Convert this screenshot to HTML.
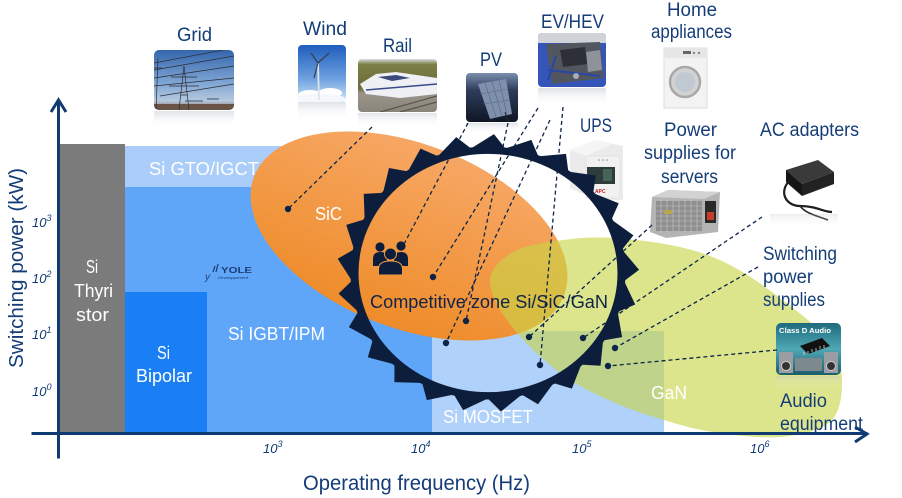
<!DOCTYPE html>
<html><head><meta charset="utf-8"><style>
html,body{margin:0;padding:0;background:#fff;}
svg{display:block;}
</style></head><body>
<svg width="902" height="498" viewBox="0 0 902 498" xmlns="http://www.w3.org/2000/svg" xmlns:xlink="http://www.w3.org/1999/xlink" font-family="'Liberation Sans', sans-serif">
<defs>
  <linearGradient id="og" x1="0" y1="140" x2="0" y2="340" gradientUnits="userSpaceOnUse">
    <stop offset="0" stop-color="#f7a866"/><stop offset="1" stop-color="#ee8a26"/>
  </linearGradient>
  <linearGradient id="gGrid" x1="0" y1="0" x2="0" y2="1">
    <stop offset="0" stop-color="#3466ad"/><stop offset="0.55" stop-color="#80a6d4"/><stop offset="0.85" stop-color="#b6c9de"/><stop offset="1" stop-color="#7a6050"/>
  </linearGradient>
  <linearGradient id="gWind" x1="0" y1="0" x2="0" y2="1">
    <stop offset="0" stop-color="#1f5cbc"/><stop offset="0.6" stop-color="#6fa2e0"/><stop offset="1" stop-color="#d6e6f6"/>
  </linearGradient>
  <linearGradient id="gRail" x1="0" y1="0" x2="0" y2="1">
    <stop offset="0" stop-color="#d8dde2"/><stop offset="0.1" stop-color="#7d8046"/><stop offset="0.55" stop-color="#6b6a3c"/><stop offset="0.65" stop-color="#9a948a"/><stop offset="1" stop-color="#8a857c"/>
  </linearGradient>
  <linearGradient id="gPV" x1="0" y1="0" x2="0" y2="1">
    <stop offset="0" stop-color="#7a8fb0"/><stop offset="0.35" stop-color="#2e3c5a"/><stop offset="1" stop-color="#0f1626"/>
  </linearGradient>
  <linearGradient id="gAud" x1="0" y1="0" x2="0" y2="1">
    <stop offset="0" stop-color="#1d6a7c"/><stop offset="0.5" stop-color="#4fa8b4"/><stop offset="1" stop-color="#1b5c6a"/>
  </linearGradient>
  <linearGradient id="refl" x1="0" y1="0" x2="0" y2="1">
    <stop offset="0" stop-color="#b8c0c8" stop-opacity="0.45"/><stop offset="1" stop-color="#ffffff" stop-opacity="0"/>
  </linearGradient>
  <clipPath id="cGrid"><rect x="154" y="50" width="80" height="60" rx="5"/></clipPath>
  <clipPath id="cWind"><rect x="298" y="45" width="48" height="57" rx="4"/></clipPath>
  <clipPath id="cRail"><rect x="358" y="59" width="79" height="53" rx="4"/></clipPath>
  <clipPath id="cPV"><rect x="466" y="73" width="52" height="49" rx="4"/></clipPath>
  <clipPath id="cEV"><rect x="538" y="33" width="68" height="54" rx="4"/></clipPath>
  <clipPath id="cAud"><rect x="776" y="323" width="65" height="52" rx="5"/></clipPath>
  <polygon id="tt" points="-17.5,-135 17.5,-135 6,-151"/>
</defs>

<rect width="902" height="498" fill="#fff"/>

<!-- ===== Photos ===== -->
<!-- Grid -->
<g clip-path="url(#cGrid)">
  <rect x="154" y="50" width="80" height="60" fill="url(#gGrid)"/>
  <rect x="154" y="104" width="80" height="6" fill="#6a5448"/>
  <g stroke="#2c2c34" stroke-width="0.7" fill="none">
    <path d="M154,63 L234,48 M154,70 L234,56 M154,78 L234,66 M154,86 L234,78 M160,96 L234,84"/>
    <path d="M179,110 L184,66 L189,110 M171,77 L197,77 M169,86 L199,86 M181,95 L187,95"/>
    <path d="M156,110 L158,58 M154,68 L162,68"/>
  </g>
  <path d="M185,101 l18,0 M207,99 l12,0" stroke="#3a4c70" stroke-width="1"/>
</g>
<rect x="154" y="111" width="80" height="16" fill="url(#refl)"/>
<!-- Wind -->
<g clip-path="url(#cWind)">
  <rect x="298" y="45" width="48" height="57" fill="url(#gWind)"/>
  <ellipse cx="310" cy="95" rx="12" ry="5" fill="#fff"/>
  <ellipse cx="330" cy="93" rx="12" ry="5" fill="#fff"/>
  <ellipse cx="320" cy="99" rx="26" ry="5" fill="#f4f8fc"/>
  <line x1="318" y1="63" x2="319" y2="100" stroke="#e0e4ea" stroke-width="1.8"/>
  <path d="M318,63 L329,53 M318,63 L314,78 M318,63 L311,53" stroke="#3a3e48" stroke-width="1.2"/>
</g>
<rect x="298" y="102" width="48" height="18" fill="url(#refl)"/>
<!-- Rail -->
<g clip-path="url(#cRail)">
  <rect x="358" y="59" width="79" height="53" fill="url(#gRail)"/>
  <polygon points="360,84 376,74 396,72 437,78 437,94 400,98 366,94" fill="#eef0f4"/>
  <path d="M378,77 L396,75 L410,78 L392,81 Z" fill="#3a4a7a"/>
  <path d="M366,90 L437,84" stroke="#3a4a8a" stroke-width="1.5"/>
  <path d="M380,112 L437,96 M400,112 L437,102" stroke="#5a544c" stroke-width="1.2"/>
</g>
<rect x="358" y="113" width="79" height="14" fill="url(#refl)"/>
<!-- PV -->
<g clip-path="url(#cPV)">
  <rect x="466" y="73" width="52" height="49" fill="url(#gPV)"/>
  <polygon points="478,84 506,79 512,114 490,119" fill="#7e90ab"/>
  <path d="M485,83 L496,117 M492,82 L502,116 M499,80 L507,115 M480,94 L508,89 M483,104 L510,100" stroke="#5a6a84" stroke-width="0.6"/>
  <path d="M490,119 L492,122 M505,112 L508,122" stroke="#222" stroke-width="1"/>
</g>
<rect x="466" y="123" width="52" height="10" fill="url(#refl)"/>
<!-- EV/HEV -->
<g clip-path="url(#cEV)">
  <rect x="538" y="33" width="68" height="54" fill="#3556b8"/>
  <rect x="538" y="33" width="68" height="10" fill="#cfd2d8"/>
  <polygon points="546,44 600,42 604,78 552,84" fill="#52565f"/>
  <polygon points="560,50 585,47 588,64 563,67" fill="#2e3038"/>
  <polygon points="586,52 600,50 602,70 588,72" fill="#8e929a"/>
  <path d="M548,70 L600,76 M556,56 L548,80" stroke="#2846a8" stroke-width="2"/>
  <circle cx="576" cy="76" r="3" fill="#a8acb4"/>
</g>
<rect x="538" y="88" width="68" height="18" fill="url(#refl)"/>
<!-- Home appliance -->
<rect x="664" y="48" width="43" height="60" fill="#f3f3f3" stroke="#dedede"/>
<rect x="665" y="49" width="41" height="9" fill="#e6e6e6"/>
<circle cx="694" cy="53" r="1.2" fill="#888"/><circle cx="699" cy="53" r="1.2" fill="#888"/><rect x="683" y="51" width="8" height="3" fill="#666"/>
<circle cx="685" cy="82" r="15" fill="#d2d2d2" stroke="#a8a8a8" stroke-width="2.5"/>
<circle cx="685" cy="82" r="10" fill="#c0c8d2"/>
<!-- UPS -->
<polygon points="570,150 596,140 623,146 623,200 596,200 570,188" fill="#ebebeb"/>
<polygon points="570,150 596,140 612,144 586,156" fill="#f5f5f5"/>
<rect x="586" y="156" width="34" height="42" fill="#f1f1f1" stroke="#dcdcdc" stroke-width="0.6"/>
<rect x="587" y="167" width="28" height="17" fill="#2e3c3c"/>
<rect x="603" y="169" width="9" height="12" fill="#47645a"/>
<text x="595" y="193" font-size="5" font-weight="bold" fill="#d02020">APC</text>
<circle cx="599" cy="160" r="0.8" fill="#888"/><circle cx="603" cy="160" r="0.8" fill="#888"/><circle cx="607" cy="160" r="0.8" fill="#888"/>
<!-- Power supply -->
<polygon points="652,197 668,190 720,192 718,232 666,238 650,232" fill="#b4b4b4"/>
<polygon points="652,197 668,190 720,192 704,199" fill="#d2d2d2"/>
<rect x="656" y="201" width="46" height="30" fill="#8f8f8f"/>
<g stroke="#c6c6c6" stroke-width="0.6"><path d="M656,206 h46 M656,211 h46 M656,216 h46 M656,221 h46 M656,226 h46 M661,201 v30 M667,201 v30 M673,201 v30 M679,201 v30 M685,201 v30 M691,201 v30 M697,201 v30"/></g>
<rect x="664" y="210" width="8" height="4" fill="#b8a64a"/>
<rect x="705" y="201" width="11" height="22" fill="#2a2a2a"/>
<rect x="707" y="212" width="7" height="8" fill="#c83a2a"/>
<!-- AC adapter -->
<polygon points="786,170 818,160 834,172 802,184" fill="#3a3a3a"/>
<polygon points="786,170 802,184 802,196 786,182" fill="#151515"/>
<polygon points="802,184 834,172 834,184 802,196" fill="#222"/>
<path d="M790,180 C778,192 786,206 800,206 C816,206 824,212 832,212" fill="none" stroke="#1e1e1e" stroke-width="2.2"/>
<path d="M800,206 C806,214 818,216 828,220" fill="none" stroke="#2a2a2a" stroke-width="1.6"/>
<rect x="770" y="214" width="68" height="14" fill="url(#refl)" opacity="0.6"/>

<!-- ===== Chart regions ===== -->
<rect x="59" y="144" width="66" height="290" fill="#7b7b7b"/>
<rect x="125" y="146" width="165" height="41" fill="#abcdf9"/>
<rect x="125" y="187" width="307" height="247" fill="#5fa5f8"/>
<rect x="125" y="292" width="82" height="142" fill="#1a7ff4"/>
<rect x="432" y="331" width="232" height="103" fill="#b0d1f9"/>

<!-- SiC ellipse -->
<ellipse cx="409" cy="236" rx="166" ry="92" transform="rotate(21 409 236)" fill="url(#og)"/>

<!-- GaN shape -->
<path fill="rgb(200,213,70)" fill-opacity="0.62" d="M490,282 C490,269.3 500.8,259 513,252 C525.2,245 546.3,242.3 563,240 C579.7,237.7 593.5,236.8 613,238 C632.5,239.2 660.5,242.5 680,247 C699.5,251.5 713.3,256.5 730,265 C746.7,273.5 763.3,285.2 780,298 C796.7,310.8 819.7,328 830,342 C840.3,356 842,368.7 842,382 C842,395.3 840.3,412.8 830,422 C819.7,431.2 799.5,435.3 780,437 C760.5,438.7 732.3,434.8 713,432 C693.7,429.2 680.7,425 664,420 C647.3,415 629.8,409.5 613,402 C596.2,394.5 579.7,387.3 563,375 C546.3,362.7 525.2,343.5 513,328 C500.8,312.5 490,294.7 490,282 Z"/>

<!-- Gear -->
<g transform="translate(488,273) scale(1,0.92)" fill="#0c1e3c">
  <circle r="133.5" fill="none" stroke="#0c1e3c" stroke-width="8"/>
  <use xlink:href="#tt" href="#tt" transform="rotate(0)"/>
  <use xlink:href="#tt" href="#tt" transform="rotate(14.4)"/>
  <use xlink:href="#tt" href="#tt" transform="rotate(28.8)"/>
  <use xlink:href="#tt" href="#tt" transform="rotate(43.2)"/>
  <use xlink:href="#tt" href="#tt" transform="rotate(57.6)"/>
  <use xlink:href="#tt" href="#tt" transform="rotate(72)"/>
  <use xlink:href="#tt" href="#tt" transform="rotate(86.4)"/>
  <use xlink:href="#tt" href="#tt" transform="rotate(100.8)"/>
  <use xlink:href="#tt" href="#tt" transform="rotate(115.2)"/>
  <use xlink:href="#tt" href="#tt" transform="rotate(129.6)"/>
  <use xlink:href="#tt" href="#tt" transform="rotate(144)"/>
  <use xlink:href="#tt" href="#tt" transform="rotate(158.4)"/>
  <use xlink:href="#tt" href="#tt" transform="rotate(172.8)"/>
  <use xlink:href="#tt" href="#tt" transform="rotate(187.2)"/>
  <use xlink:href="#tt" href="#tt" transform="rotate(201.6)"/>
  <use xlink:href="#tt" href="#tt" transform="rotate(216)"/>
  <use xlink:href="#tt" href="#tt" transform="rotate(230.4)"/>
  <use xlink:href="#tt" href="#tt" transform="rotate(244.8)"/>
  <use xlink:href="#tt" href="#tt" transform="rotate(259.2)"/>
  <use xlink:href="#tt" href="#tt" transform="rotate(273.6)"/>
  <use xlink:href="#tt" href="#tt" transform="rotate(288)"/>
  <use xlink:href="#tt" href="#tt" transform="rotate(302.4)"/>
  <use xlink:href="#tt" href="#tt" transform="rotate(316.8)"/>
  <use xlink:href="#tt" href="#tt" transform="rotate(331.2)"/>
  <use xlink:href="#tt" href="#tt" transform="rotate(345.6)"/>
</g>

<!-- Audio photo (over green) -->
<g clip-path="url(#cAud)">
  <rect x="776" y="323" width="65" height="52" fill="url(#gAud)"/>
  <polygon points="800,346 822,338 830,346 808,354" fill="#111"/>
  <path d="M804,352 l0,3 M808,351 l0,3 M812,349 l0,3 M816,348 l0,3 M820,346 l0,3 M824,345 l0,3" stroke="#ddd" stroke-width="0.8"/>
  <rect x="779" y="352" width="14" height="21" fill="#9a9ea4"/>
  <circle cx="786" cy="366" r="4.5" fill="#333" stroke="#ccc" stroke-width="1"/>
  <rect x="824" y="352" width="14" height="21" fill="#9a9ea4"/>
  <circle cx="831" cy="366" r="4.5" fill="#333" stroke="#ccc" stroke-width="1"/>
  <rect x="795" y="358" width="27" height="13" fill="#7c8a90"/>
</g>
<text x="779" y="333" font-size="7.5" font-weight="bold" fill="#ffffff" textLength="52" lengthAdjust="spacingAndGlyphs">Class D Audio</text>
<rect x="776" y="376" width="65" height="14" fill="url(#refl)" opacity="0.7"/>

<!-- ===== Axes ===== -->
<g stroke="#0f3a72" stroke-width="3" fill="none" stroke-linecap="square">
  <line x1="58.5" y1="101" x2="58.5" y2="457"/>
  <line x1="33" y1="433.5" x2="866" y2="433.5"/>
  <polyline points="51,112 58.5,100 66,112" stroke-linejoin="miter" stroke-linecap="butt"/>
  <polyline points="855,427 867,434 855,442" stroke-linejoin="miter" stroke-linecap="butt"/>
</g>

<!-- ===== Labels ===== -->
<g fill="#143d78" font-size="19">
  <text x="177" y="41" textLength="35" lengthAdjust="spacingAndGlyphs">Grid</text>
  <text x="303" y="35" textLength="44" lengthAdjust="spacingAndGlyphs">Wind</text>
  <text x="383" y="52" textLength="29" lengthAdjust="spacingAndGlyphs">Rail</text>
  <text x="480" y="66" textLength="22" lengthAdjust="spacingAndGlyphs">PV</text>
  <text x="541" y="28" textLength="63" lengthAdjust="spacingAndGlyphs">EV/HEV</text>
  <text x="667" y="16" textLength="50" lengthAdjust="spacingAndGlyphs">Home</text>
  <text x="651" y="38" textLength="81" lengthAdjust="spacingAndGlyphs">appliances</text>
  <text x="580" y="132" textLength="32" lengthAdjust="spacingAndGlyphs">UPS</text>
  <text x="664" y="136" textLength="53" lengthAdjust="spacingAndGlyphs">Power</text>
  <text x="644" y="159" textLength="92" lengthAdjust="spacingAndGlyphs">supplies for</text>
  <text x="661" y="183" textLength="57" lengthAdjust="spacingAndGlyphs">servers</text>
  <text x="760" y="136" textLength="99" lengthAdjust="spacingAndGlyphs">AC adapters</text>
  <text x="763" y="260" textLength="74" lengthAdjust="spacingAndGlyphs">Switching</text>
  <text x="763" y="283" textLength="50" lengthAdjust="spacingAndGlyphs">power</text>
  <text x="763" y="306" textLength="62" lengthAdjust="spacingAndGlyphs">supplies</text>
  <text x="780" y="407" textLength="47" lengthAdjust="spacingAndGlyphs">Audio</text>
  <text x="780" y="430" textLength="83" lengthAdjust="spacingAndGlyphs">equipment</text>
  <text transform="translate(23,368) rotate(-90)" x="0" y="0" font-size="20" textLength="200" lengthAdjust="spacingAndGlyphs">Switching power (kW)</text>
  <text x="303" y="490" font-size="21" textLength="227" lengthAdjust="spacingAndGlyphs">Operating frequency (Hz)</text>
</g>

<g fill="#143d78" font-size="13" font-style="italic">
  <text x="32" y="227">10<tspan dy="-6" font-size="9">3</tspan></text>
  <text x="32" y="283">10<tspan dy="-6" font-size="9">2</tspan></text>
  <text x="32" y="339">10<tspan dy="-6" font-size="9">1</tspan></text>
  <text x="32" y="396">10<tspan dy="-6" font-size="9">0</tspan></text>
  <text x="263" y="453">10<tspan dy="-6" font-size="9">3</tspan></text>
  <text x="411" y="453">10<tspan dy="-6" font-size="9">4</tspan></text>
  <text x="572" y="453">10<tspan dy="-6" font-size="9">5</tspan></text>
  <text x="750" y="453">10<tspan dy="-6" font-size="9">6</tspan></text>
</g>

<g fill="#ffffff" font-size="18">
  <text x="149" y="175" textLength="110" lengthAdjust="spacingAndGlyphs">Si GTO/IGCT</text>
  <text x="315" y="220" textLength="27" lengthAdjust="spacingAndGlyphs">SiC</text>
  <text x="86" y="273" textLength="12" lengthAdjust="spacingAndGlyphs">Si</text>
  <text x="74" y="297" textLength="39" lengthAdjust="spacingAndGlyphs">Thyri</text>
  <text x="76" y="321" textLength="33" lengthAdjust="spacingAndGlyphs">stor</text>
  <text x="157" y="359" textLength="13" lengthAdjust="spacingAndGlyphs">Si</text>
  <text x="136" y="382" textLength="56" lengthAdjust="spacingAndGlyphs">Bipolar</text>
  <text x="228" y="340" textLength="97" lengthAdjust="spacingAndGlyphs">Si IGBT/IPM</text>
  <text x="443" y="423" textLength="90" lengthAdjust="spacingAndGlyphs">Si MOSFET</text>
  <text x="651" y="399" textLength="36" lengthAdjust="spacingAndGlyphs">GaN</text>
</g>
<text x="370" y="308" font-size="18" fill="#0f2448" textLength="238" lengthAdjust="spacingAndGlyphs">Competitive zone Si/SiC/GaN</text>

<!-- Yole logo -->
<g fill="#1b3f74">
  <text x="205" y="280" font-size="10" font-style="italic">y</text>
  <path d="M213,272 l2,-6 M216,272 l2,-8" stroke="#1b3f74" stroke-width="1.2"/>
  <text x="221" y="273" font-size="8" font-weight="bold" textLength="31" lengthAdjust="spacingAndGlyphs">YOLE</text>
  <text x="218" y="279" font-size="4" font-style="italic" textLength="30" lengthAdjust="spacingAndGlyphs">Développement</text>
</g>

<!-- ===== Connectors ===== -->
<g stroke="#0b2448" stroke-width="1.3" stroke-dasharray="4 3" fill="none">
  <line x1="372" y1="127" x2="288" y2="209"/>
  <line x1="468" y1="123" x2="404" y2="244"/>
  <line x1="508" y1="123" x2="466" y2="321"/>
  <line x1="538" y1="108" x2="433" y2="277"/>
  <line x1="550" y1="120" x2="446" y2="343"/>
  <line x1="563" y1="107" x2="540" y2="365"/>
  <line x1="652" y1="225" x2="529" y2="337"/>
  <line x1="762" y1="217" x2="583" y2="338"/>
  <line x1="758" y1="267" x2="615" y2="348"/>
  <line x1="777" y1="350" x2="608" y2="366"/>
</g>
<g fill="#0b2448">
  <circle cx="288" cy="209" r="3.2"/>
  <circle cx="466" cy="321" r="3.2"/>
  <circle cx="433" cy="277" r="3.2"/>
  <circle cx="446" cy="343" r="3.2"/>
  <circle cx="540" cy="365" r="3.2"/>
  <circle cx="529" cy="337" r="3.2"/>
  <circle cx="583" cy="338" r="3.2"/>
  <circle cx="615" cy="348" r="3.2"/>
  <circle cx="608" cy="366" r="3.2"/>
</g>

<!-- People icon -->
<g fill="#0c1e3c">
  <circle cx="380" cy="247" r="4.6"/>
  <circle cx="401" cy="246" r="4.6"/>
  <path d="M373,266 L373,259 Q373,252 380,252 Q385,252 387,255 L387,266 Z"/>
  <path d="M408,266 L408,259 Q408,252 401,252 Q396,252 394,255 L394,266 Z"/>
  <circle cx="390.5" cy="254" r="6" stroke="#f29a40" stroke-width="1"/>
  <path d="M378.5,275 L378.5,269 Q378.5,261 390.5,261 Q402.5,261 402.5,269 L402.5,275 Z" stroke="#f29a40" stroke-width="1"/>
</g>
</svg>
</body></html>
